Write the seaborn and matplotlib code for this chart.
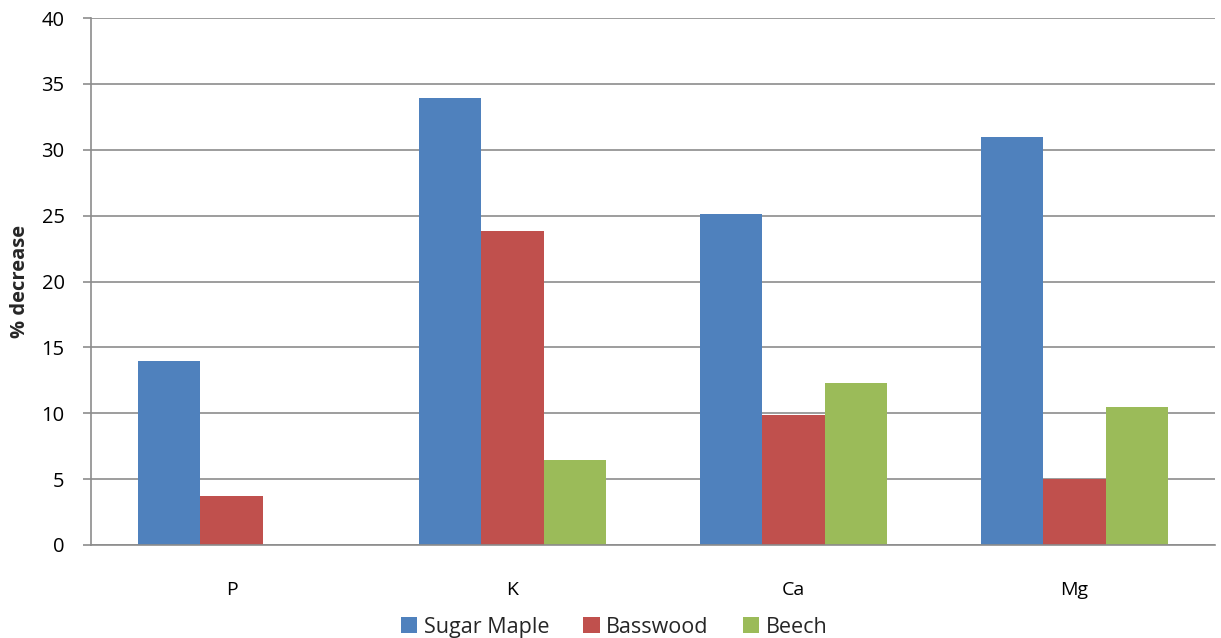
import matplotlib
matplotlib.use("Agg")
import matplotlib.pyplot as plt
import seaborn as sns
import pandas as pd
import numpy as np

categories = ["P", "K", "Ca", "Mg"]
series = ["Sugar Maple", "Basswood", "Beech"]
sugar_maple = [14.0, 33.9, 25.1, 31.0]
basswood = [3.7, 23.8, 9.9, 5.0]
beech = [0.0, 6.45, 12.3, 10.5]
colors = ["#4F81BD", "#C0504D", "#9BBB59"]

rows = []
for s, vals in zip(series, [sugar_maple, basswood, beech]):
    for c, v in zip(categories, vals):
        rows.append({"cat": c, "series": s, "value": v})
df = pd.DataFrame(rows)

sns.set_theme(style="white")
plt.rcParams["font.family"] = ["Open Sans", "DejaVu Sans"]

fig = plt.figure(figsize=(12.21, 6.38), dpi=100)
ax = fig.add_axes([91/1221, 1-545/638, (1215-91)/1221, (545-18)/638])

sns.barplot(data=df, x="cat", y="value", hue="series", order=categories,
            hue_order=series, palette=colors, width=0.667, ax=ax,
            edgecolor="none", linewidth=0, saturation=1, legend=True)

ax.set_ylim(0, 40)
ax.set_xlim(-0.5, 3.5)
ax.set_yticks(np.arange(0, 41, 5))
ax.yaxis.grid(True, color="#8C8C8C", linewidth=1.2)
ax.set_axisbelow(True)
for side in ["top", "right"]:
    ax.spines[side].set_visible(False)
for side in ["left", "bottom"]:
    ax.spines[side].set_color("#8C8C8C")
    ax.spines[side].set_linewidth(1.2)

ax.set_xticks(np.arange(-0.5, 4, 1), minor=True)
ax.tick_params(axis="x", which="major", length=0, pad=26, labelsize=14, colors="black")
ax.tick_params(axis="x", which="minor", length=6, width=1.2, color="#8C8C8C", direction="out")
ax.tick_params(axis="y", length=6, width=1.2, color="#8C8C8C", direction="out", labelsize=14.5,
               pad=13, left=True, labelcolor="black")
ax.set_xlabel("")
ax.set_ylabel("% decrease", fontsize=14.5, fontweight="bold")
ax.yaxis.set_label_coords(-0.054, 0.5)

handles, labels = ax.get_legend_handles_labels()
ax.legend_.remove()
fig.legend(handles, labels, loc="lower center", bbox_to_anchor=(0.503, -0.03), ncol=3,
           frameon=False, fontsize=15.5, handlelength=0.75, handleheight=0.75,
           handletextpad=0.3, columnspacing=1.6)

fig.savefig("out.png", dpi=100)
